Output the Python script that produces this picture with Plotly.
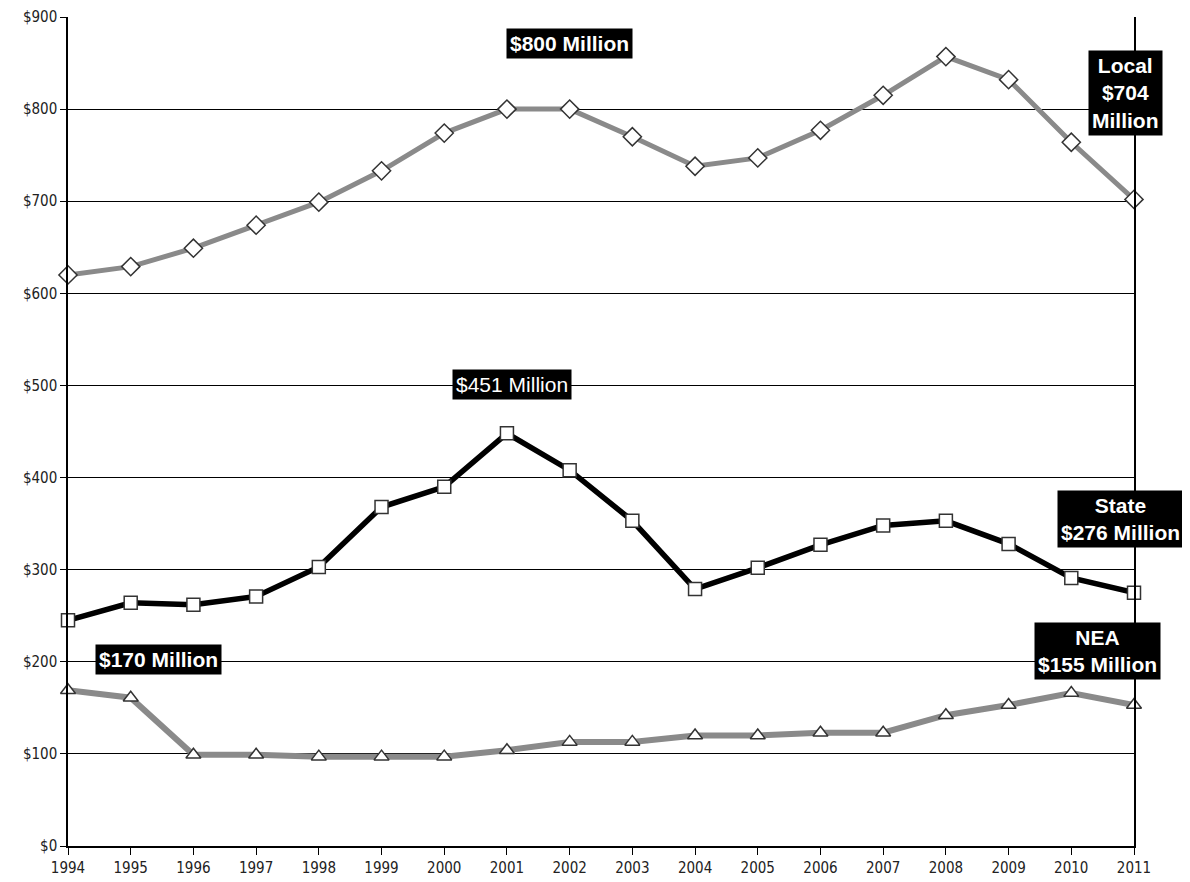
import plotly.graph_objects as go

years = list(range(1994, 2012))
local = [620, 629, 649, 674, 699, 733, 774, 800, 800, 770, 738, 747, 777, 815, 857, 832, 764, 702]
state = [245, 264, 262, 271, 303, 368, 390, 448, 408, 353, 279, 302, 327, 348, 353, 328, 291, 275]
nea = [169, 161, 99, 99, 97, 97, 97, 104, 113, 113, 120, 120, 123, 123, 142, 153, 166, 153]

y_ticks = [0, 100, 200, 300, 400, 500, 600, 700, 800, 900]
y_labels = ["$%d" % v for v in y_ticks]

labels = [
    ("$800 Million", 2002.0, 871, True),
    ("$451 Million", 2001.08, 501, False),
    ("Local<br>$704<br>Million", 2010.87, 817, True),
    ("State<br>$276 Million", 2010.79, 355, True),
    ("NEA<br>$155 Million", 2010.41, 212, True),
    ("$170 Million", 1995.44, 202, True),
]

fig = go.Figure()
fig.add_trace(go.Scatter(x=years, y=local, mode="lines+markers",
                         line=dict(color="#8a8a8a", width=5),
                         marker=dict(symbol="diamond", size=14, color="white",
                                     line=dict(color="#333", width=1.5)),
                         cliponaxis=False, name="Local"))
fig.add_trace(go.Scatter(x=years, y=state, mode="lines+markers",
                         line=dict(color="black", width=5.5),
                         marker=dict(symbol="square", size=13, color="white",
                                     line=dict(color="#333", width=1.5)),
                         cliponaxis=False, name="State"))
fig.add_trace(go.Scatter(x=years, y=nea, mode="lines+markers",
                         line=dict(color="#8a8a8a", width=6),
                         marker=dict(symbol="triangle-up", size=13, color="white",
                                     line=dict(color="#333", width=1.5)),
                         cliponaxis=False, name="NEA"))

for text, x, y, bold in labels:
    fig.add_annotation(
        x=x, y=y, xref="x", yref="y", showarrow=False,
        text=("<b>%s</b>" % text) if bold else text,
        font=dict(family="Liberation Sans Narrow, Liberation Sans, Arial Narrow, sans-serif",
                  size=21, color="white"),
        bgcolor="black", borderpad=3, align="center",
    )

axis_font = dict(family="DejaVu Sans Condensed, DejaVu Sans, sans-serif", size=15, color="#222")
fig.update_layout(
    width=1182, height=874,
    margin=dict(l=60, r=56, t=9, b=36),
    paper_bgcolor="white", plot_bgcolor="white",
    showlegend=False,
    xaxis=dict(range=[1994, 2011], tickvals=years, ticktext=[str(y) for y in years],
               showgrid=False, showline=True, linecolor="black", linewidth=1.5,
               ticks="outside", ticklen=7, tickcolor="black", tickfont=axis_font,
               zeroline=False, mirror=False, automargin=False),
    yaxis=dict(range=[0, 900], tickvals=y_ticks, ticktext=y_labels,
               showgrid=True, gridcolor="black", gridwidth=1.2,
               showline=True, linecolor="black", linewidth=1.5, mirror=True,
               ticks="outside", ticklen=6, tickcolor="black", tickfont=axis_font,
               zeroline=False, automargin=False),
)

fig.write_html("out.html")
